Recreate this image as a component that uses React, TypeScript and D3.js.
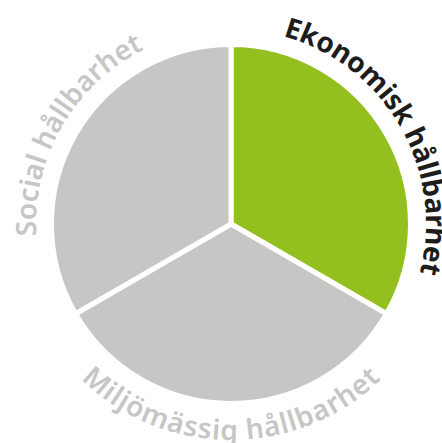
import React from "react";
import * as d3 from "d3";

const categories = ["Ekonomisk hållbarhet", "Miljömässig hållbarhet", "Social hållbarhet"];
const values = [1, 1, 1];
const sliceColors = ["#93c01f", "#c6c6c5", "#c6c6c5"];
const labelColors = ["#1d1d1b", "#c6c6c5", "#c6c6c5"];
const labelWeights = [700, 600, 600];
const labelSpanDeg = [89, 88, 67];

const W = 442;
const H = 443;
const cx = 231;
const cy = 224;
const R = 177;
const gap = 5;
const rOut = 195; // baseline radius for top labels
const rIn = 216; // baseline radius for bottom (inverted) labels

function pt(theta: number, r: number): [number, number] {
  return [cx + r * Math.sin(theta), cy - r * Math.cos(theta)];
}

export default function App() {
  const pie = d3.pie<number>().sort(null).startAngle(0).endAngle(2 * Math.PI);
  const arcs = pie(values);
  const arcGen = d3
    .arc<d3.PieArcDatum<number>>()
    .innerRadius(0)
    .outerRadius(R + gap / 2);

  return (
    <svg
      width={W}
      height={H}
      style={{ position: "absolute", left: 0, top: 0, background: "#fff" }}
    >
      {arcs.map((a, i) => (
        <path
          key={"s" + i}
          d={arcGen(a) || ""}
          transform={`translate(${cx},${cy})`}
          fill={sliceColors[i]}
          stroke="#ffffff"
          strokeWidth={gap}
          strokeLinejoin="miter"
        />
      ))}
      <defs>
        {arcs.map((a, i) => {
          const mid = (a.startAngle + a.endAngle) / 2;
          const half = ((labelSpanDeg[i] / 2) * Math.PI) / 180;
          const bottom = Math.cos(mid) < -0.5;
          if (bottom) {
            const r = rIn;
            const [x0, y0] = pt(mid + half, r);
            const [x1, y1] = pt(mid - half, r);
            return (
              <path
                key={"p" + i}
                id={"lp" + i}
                d={`M${x0},${y0} A${r},${r} 0 0 0 ${x1},${y1}`}
              />
            );
          }
          const r = rOut;
          const [x0, y0] = pt(mid - half, r);
          const [x1, y1] = pt(mid + half, r);
          return (
            <path
              key={"p" + i}
              id={"lp" + i}
              d={`M${x0},${y0} A${r},${r} 0 0 1 ${x1},${y1}`}
            />
          );
        })}
      </defs>
      {arcs.map((a, i) => {
        const mid = (a.startAngle + a.endAngle) / 2;
        const bottom = Math.cos(mid) < -0.5;
        const r = bottom ? rIn : rOut;
        const len = (labelSpanDeg[i] * Math.PI * r) / 180;
        return (
          <text
            key={"t" + i}
            fontFamily="'Noto Sans', 'Open Sans', sans-serif"
            fontSize={28}
            fontWeight={labelWeights[i]}
            fill={labelColors[i]}
          >
            <textPath
              href={"#lp" + i}
              startOffset="0"
              textLength={len}
              lengthAdjust="spacing"
            >
              {categories[i]}
            </textPath>
          </text>
        );
      })}
    </svg>
  );
}
